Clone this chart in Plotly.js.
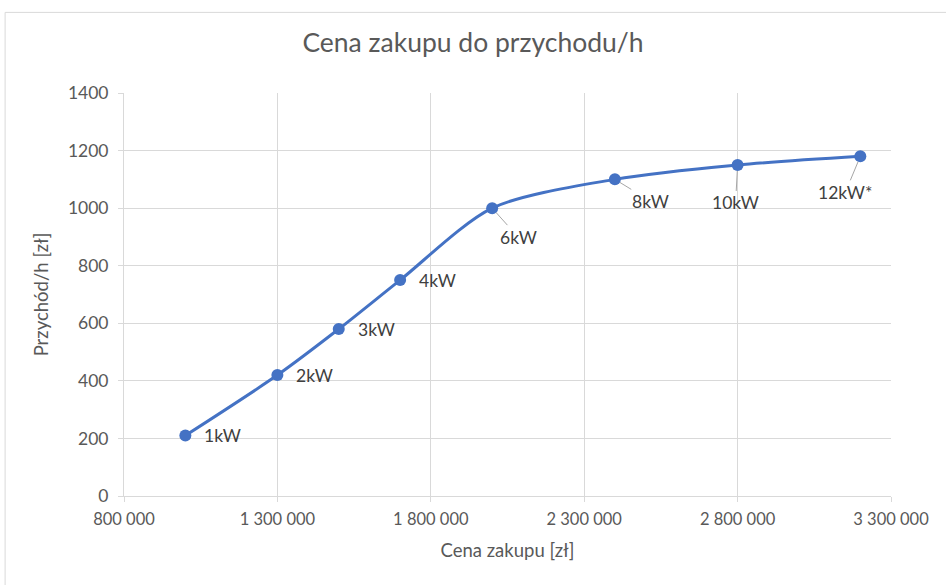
<!DOCTYPE html>
<html lang="en">
<head>
    <meta charset="UTF-8">
    <title>Cena zakupu do przychodu/h</title>
    <script src='https://cdn.plot.ly/plotly-3.0.0.min.js'></script>
    <style>
        body { margin: 0; background: #ffffff; }
        #plot { width: 946px; height: 585px; }
    </style>
</head>
<body>
    <div id="plot"></div>

    <script>
        // Data
        const cena = [1000000, 1300000, 1500000, 1700000, 2000000, 2400000, 2800000, 3200000];
        const przychod = [210, 420, 580, 750, 1000, 1100, 1150, 1180];
        const moc = ['1kW', '2kW', '3kW', '4kW', '6kW', '8kW', '10kW', '12kW*'];

        // label placement (pixel offsets from the point), null = plain label to the right
        const labelOffsets = [null, null, null, null, [26, 29], [36, 22], [-2, 38], [-15, 36]];

        const txtColor = '#595959';
        const font = 'Lato, "Open Sans", sans-serif';

        const trace = {
            x: cena,
            y: przychod,
            type: 'scatter',
            mode: 'lines+markers',
            line: {color: '#4472C4', width: 3, shape: 'spline', smoothing: 0.8},
            marker: {color: '#4472C4', size: 12},
            hoverinfo: 'x+y'
        };

        const annotations = moc.map((m, i) => {
            const off = labelOffsets[i];
            if (!off) {
                return {
                    x: cena[i], y: przychod[i], xref: 'x', yref: 'y',
                    text: m, showarrow: false, xanchor: 'left', xshift: 17,
                    font: {size: 17.5, color: '#404040', family: font}
                };
            }
            return {
                x: cena[i], y: przychod[i], xref: 'x', yref: 'y',
                text: m, showarrow: true, arrowhead: 0, arrowwidth: 1,
                arrowcolor: '#a6a6a6', ax: off[0], ay: off[1], standoff: 6,
                font: {size: 17.5, color: '#404040', family: font}
            };
        });

        const layout = {
            width: 946,
            height: 585,
            paper_bgcolor: '#ffffff',
            plot_bgcolor: '#ffffff',
            separators: ', ',
            font: {family: font, color: txtColor, size: 17},
            title: {text: 'Cena zakupu do przychodu/h', font: {size: 26.5, color: txtColor, family: font}, x: 0.5, xanchor: 'center', y: 0.927, yanchor: 'middle'},
            margin: {l: 124, r: 55, t: 93, b: 89},
            showlegend: false,
            xaxis: {
                range: [800000, 3300000],
                dtick: 500000,
                tick0: 800000,
                tickformat: ',d',
                showgrid: true,
                gridcolor: '#d9d9d9',
                zeroline: false,
                showline: true,
                linecolor: '#d9d9d9',
                ticks: 'outside',
                ticklen: 5,
                tickcolor: '#d9d9d9',
                tickfont: {size: 16.5, color: txtColor},
                ticklabelstandoff: 3,
                title: {text: 'Cena zakupu [zł]', font: {size: 18.5, color: txtColor}, standoff: 16}
            },
            yaxis: {
                range: [0, 1400],
                dtick: 200,
                showgrid: true,
                gridcolor: '#d9d9d9',
                zeroline: false,
                showline: true,
                linecolor: '#d9d9d9',
                ticks: 'outside',
                ticklen: 5,
                tickcolor: '#d9d9d9',
                tickfont: {size: 17.5, color: txtColor},
                ticklabelstandoff: 6,
                title: {text: 'Przychód/h [zł]', font: {size: 18.5, color: txtColor}, standoff: 14}
            },
            shapes: [{
                type: 'rect', xref: 'paper', yref: 'paper',
                x0: -0.155, x1: 1.2, y0: -0.3, y1: 1.2,
                line: {color: '#d9d9d9', width: 1}, layer: 'below'
            }],
            annotations: annotations
        };

        Plotly.newPlot('plot', [trace], layout, {displayModeBar: false, staticPlot: true});
    </script>
</body>
</html>
